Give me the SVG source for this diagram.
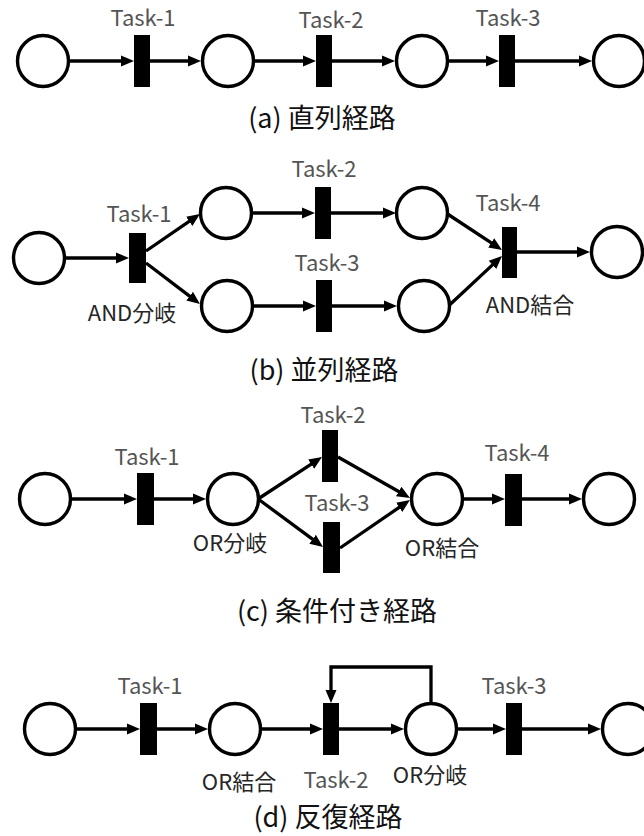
<svg xmlns="http://www.w3.org/2000/svg" width="644" height="836" viewBox="0 0 644 836">
<style>
.pl{fill:#fff;stroke:#000;stroke-width:3.4}
.tr{fill:#000}
.ed{fill:none;stroke:#000;stroke-width:3.3;marker-end:url(#ah)}
text{font-family:"Noto Sans CJK JP","Noto Sans",sans-serif;text-anchor:middle}
.tl{font-size:22px;fill:#555}
.lb{font-size:22px;fill:#262626}
.cap{font-size:27px;fill:#111}
</style>
<defs>
<marker id="ah" markerUnits="userSpaceOnUse" markerWidth="13" markerHeight="12" viewBox="0 0 13 12" refX="7" refY="6" orient="auto"><path d="M0,0.5 L13,6 L0,11.5 z" fill="#000"/></marker>
</defs>
<rect width="644" height="836" fill="#fff"/>

<!-- Panel (a) -->
<g id="edges-a">
<line class="ed" x1="68" y1="61" x2="128" y2="61"/>
<line class="ed" x1="150" y1="61" x2="195" y2="61"/>
<line class="ed" x1="254" y1="61" x2="310" y2="61"/>
<line class="ed" x1="332" y1="61" x2="389" y2="61"/>
<line class="ed" x1="448" y1="61" x2="493" y2="61"/>
<line class="ed" x1="515" y1="61" x2="586" y2="61"/>
</g>
<g id="a-p1"><circle class="pl" cx="43" cy="61" r="25.5"/></g>
<g id="a-t1"><rect class="tr" x="134" y="35" width="16" height="52"/><text class="tl" x="143" y="26">Task-1</text></g>
<g id="a-p2"><circle class="pl" cx="228" cy="61" r="25.5"/></g>
<g id="a-t2"><rect class="tr" x="316" y="35" width="16" height="52"/><text class="tl" x="331" y="28">Task-2</text></g>
<g id="a-p3"><circle class="pl" cx="422" cy="61" r="25.5"/></g>
<g id="a-t3"><rect class="tr" x="499" y="35" width="16" height="52"/><text class="tl" x="508" y="26">Task-3</text></g>
<g id="a-p4"><circle class="pl" cx="619" cy="61" r="25.5"/></g>
<g id="a-cap"><text class="cap" x="322" y="128">(a) 直列経路</text></g>

<!-- Panel (b) -->
<g id="edges-b">
<line class="ed" x1="64" y1="258" x2="123" y2="258"/>
<line class="ed" x1="146" y1="251" x2="195" y2="217.4"/>
<line class="ed" x1="146" y1="263" x2="195.2" y2="300.4"/>
<line class="ed" x1="252" y1="213" x2="309" y2="213"/>
<line class="ed" x1="331" y1="213" x2="390" y2="213"/>
<line class="ed" x1="253" y1="306" x2="310" y2="306"/>
<line class="ed" x1="332" y1="306" x2="391" y2="306"/>
<line class="ed" x1="447.5" y1="214" x2="497" y2="246.7"/>
<line class="ed" x1="449.5" y1="305" x2="497.6" y2="260.1"/>
<line class="ed" x1="517" y1="252" x2="584" y2="252"/>
</g>
<g id="b-p1"><circle class="pl" cx="39" cy="258" r="25.5"/></g>
<g id="b-t1"><rect class="tr" x="129" y="233" width="17" height="50"/><text class="tl" x="139" y="222">Task-1</text><text class="lb" x="132" y="321">AND分岐</text></g>
<g id="b-p2"><circle class="pl" cx="226" cy="213" r="25.5"/></g>
<g id="b-p3"><circle class="pl" cx="227" cy="306" r="25.5"/></g>
<g id="b-t2"><rect class="tr" x="315" y="187" width="16" height="52"/><text class="tl" x="324" y="177">Task-2</text></g>
<g id="b-t3"><rect class="tr" x="316" y="280" width="16" height="52"/><text class="tl" x="327" y="271">Task-3</text></g>
<g id="b-p4"><circle class="pl" cx="422" cy="213" r="25.5"/></g>
<g id="b-p5"><circle class="pl" cx="424" cy="306" r="25.5"/></g>
<g id="b-t4"><rect class="tr" x="502" y="227" width="15" height="51"/><text class="tl" x="508" y="211">Task-4</text><text class="lb" x="530" y="313">AND結合</text></g>
<g id="b-p6"><circle class="pl" cx="617" cy="252" r="25.5"/></g>
<g id="b-cap"><text class="cap" x="324" y="380">(b) 並列経路</text></g>

<!-- Panel (c) -->
<g id="edges-c">
<line class="ed" x1="71" y1="499" x2="131" y2="499"/>
<line class="ed" x1="154" y1="499" x2="200" y2="499"/>
<line class="ed" x1="259.5" y1="498" x2="317" y2="460.3"/>
<line class="ed" x1="259.5" y1="500" x2="318.2" y2="543.4"/>
<line class="ed" x1="338" y1="457" x2="404.8" y2="495"/>
<line class="ed" x1="340" y1="548" x2="405" y2="503.4"/>
<line class="ed" x1="463" y1="499" x2="499" y2="499"/>
<line class="ed" x1="522" y1="499" x2="576" y2="499"/>
</g>
<g id="c-p1"><circle class="pl" cx="45" cy="499" r="25.5"/></g>
<g id="c-t1"><rect class="tr" x="137" y="473" width="17" height="52"/><text class="tl" x="147" y="465">Task-1</text></g>
<g id="c-p2"><circle class="pl" cx="233" cy="499" r="25.5"/><text class="lb" x="230" y="551">OR分岐</text></g>
<g id="c-t2"><rect class="tr" x="322" y="430" width="16" height="52"/><text class="tl" x="333" y="423">Task-2</text></g>
<g id="c-t3"><rect class="tr" x="323" y="522" width="17" height="51"/><text class="tl" x="337" y="511">Task-3</text></g>
<g id="c-p3"><circle class="pl" cx="437" cy="499" r="25.5"/><text class="lb" x="442" y="556">OR結合</text></g>
<g id="c-t4"><rect class="tr" x="505" y="474" width="17" height="52"/><text class="tl" x="517" y="461">Task-4</text></g>
<g id="c-p4"><circle class="pl" cx="609" cy="499" r="25.5"/></g>
<g id="c-cap"><text class="cap" x="337" y="621">(c) 条件付き経路</text></g>

<!-- Panel (d) -->
<g id="edges-d">
<line class="ed" x1="76" y1="729" x2="134" y2="729"/>
<line class="ed" x1="157" y1="729" x2="202" y2="729"/>
<line class="ed" x1="261" y1="729" x2="317" y2="729"/>
<line class="ed" x1="339" y1="729" x2="398" y2="729"/>
<line class="ed" x1="457" y1="729" x2="500" y2="729"/>
<line class="ed" x1="522" y1="729" x2="595" y2="729"/>
<polyline class="ed" points="431,703 431,667 331,667 331,697"/>
</g>
<g id="d-p1"><circle class="pl" cx="50" cy="729" r="25.5"/></g>
<g id="d-t1"><rect class="tr" x="140" y="703" width="17" height="52"/><text class="tl" x="150" y="694">Task-1</text></g>
<g id="d-p2"><circle class="pl" cx="235" cy="729" r="25.5"/><text class="lb" x="239" y="790">OR結合</text></g>
<g id="d-t2"><rect class="tr" x="323" y="703" width="16" height="52"/><text class="tl" x="336" y="788">Task-2</text></g>
<g id="d-p3"><circle class="pl" cx="431" cy="729" r="25.5"/><text class="lb" x="430" y="783">OR分岐</text></g>
<g id="d-t3"><rect class="tr" x="506" y="703" width="16" height="52"/><text class="tl" x="514" y="694">Task-3</text></g>
<g id="d-p4"><circle class="pl" cx="628" cy="729" r="25.5"/></g>
<g id="d-cap"><text class="cap" x="328" y="827">(d) 反復経路</text></g>
</svg>
